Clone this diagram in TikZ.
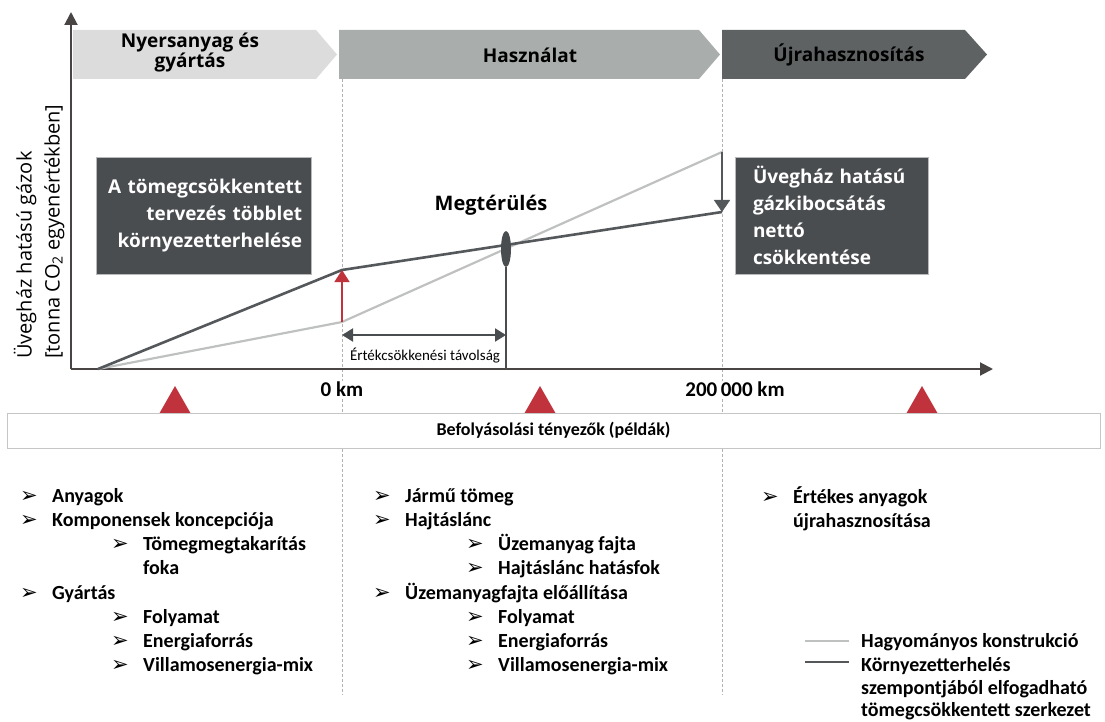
\documentclass[tikz,border=0pt]{standalone}
\usepackage{fontspec}
\setmainfont{Carlito}
\newfontfamily\opensans{Open Sans}
\newfontfamily\symbfont{DejaVu Sans}
\usetikzlibrary{arrows.meta,shapes.geometric}
\definecolor{phaseA}{HTML}{DCDCDC}
\definecolor{phaseB}{HTML}{A9ADAC}
\definecolor{phaseC}{HTML}{5F6262}
\definecolor{boxgray}{HTML}{4A4D50}
\definecolor{convgray}{HTML}{BFC1C1}
\definecolor{lightgray}{HTML}{55585B}
\definecolor{warnred}{HTML}{C0323C}
\definecolor{axisgray}{HTML}{4A4545}
\newcommand{\bul}{\makebox[32pt][l]{\symbfont\fontsize{21}{21}\selectfont ➢}}
\begin{document}
\begin{tikzpicture}[x=1pt, y=-1pt,
    phase/.style={font=\opensans\bfseries\fontsize{19}{20}\selectfont, align=center, inner sep=0pt},
    darkbox/.style={fill=boxgray, draw=gray!55, text=white, font=\opensans\bfseries\fontsize{19}{27}\selectfont, minimum height=117pt, inner sep=0pt},
    listtext/.style={anchor=base west, inner sep=0pt, font=\bfseries\fontsize{20}{24}\selectfont},
    km/.style={fill=white, inner sep=1pt, font=\bfseries\fontsize{21}{22}\selectfont},
    axis/.style={draw=axisgray, line width=2pt, -{Triangle[width=13pt,length=13pt]}},
    guide/.style={draw=gray!60, line width=0.8pt, dash pattern=on 3pt off 2pt},
    convline/.style={draw=convgray, line width=2.2pt},
    lightline/.style={draw=lightgray, line width=2.6pt},
    redarrow/.style={draw=warnred, line width=1.6pt, -{Triangle[width=15pt,length=12pt]}},
    grayarrow/.style={draw=lightgray, line width=1.6pt, -{Triangle[width=16pt,length=12pt]}},
    distarrow/.style={draw=boxgray, line width=2pt, {Triangle[width=13pt,length=11pt]}-{Triangle[width=13pt,length=11pt]}}]
\useasboundingbox (0,0) rectangle (1105,722);

\fill[phaseA] (73,30) -- (316,30) -- (337,54.5) -- (316,79) -- (73,79) -- cycle;
\fill[phaseB] (339,30) -- (699,30) -- (720,54.5) -- (699,79) -- (339,79) -- cycle;
\fill[phaseC] (722,30) -- (965,30) -- (987,54.5) -- (965,79) -- (722,79) -- cycle;
\node[phase] (ph1) at (190,53) {Nyersanyag és\\gyártás};
\node[phase] (ph2) at (530,55) {Használat};
\node[phase] (ph3) at (849,55) {Újrahasznosítás};

\coordinate (zeroTop) at (342,79);
\coordinate (zeroBot) at (342,695);
\coordinate (endTop) at (722,79);
\coordinate (endBot) at (722,695);
\draw[guide] (zeroTop) -- (zeroBot);
\draw[guide] (endTop) -- (endBot);

\coordinate (origin) at (71,369);
\coordinate (yEnd) at (71,12);
\coordinate (xEnd) at (993,369);
\draw[axis] (origin) -- (yEnd);
\draw[axis] (origin) -- (xEnd);
\node[rotate=90, anchor=west, align=left, inner sep=0pt, font=\opensans\fontsize{20}{28}\selectfont] (ylabel) at (39,359)
    {Üvegház hatású gázok\\{[}tonna CO\textsubscript{2} egyenértékben{]}};

\node[darkbox, minimum width=215pt, text width=197pt, align=right] (extra) at (203.5,215.5)
    {A tömegcsökkentett\\tervezés többlet\\környezetterhelése};
\node[darkbox, minimum width=193pt, text width=157pt, align=left] (net) at (831.5,215.5)
    {Üvegház hatású\\gázkibocsátás\\nettó\\csökkentése};

\coordinate (start) at (98,369);
\coordinate (convK) at (342,322);
\coordinate (lightK) at (342,270);
\coordinate (convE) at (722,152);
\coordinate (lightE) at (722,212);
\draw[convline] (start) -- (convK) -- (convE);
\draw[lightline] (start) -- (lightK) -- (lightE);
\draw[redarrow] (convK) -- (lightK);
\draw[grayarrow] (convE) -- (lightE);

\node[ellipse, fill=boxgray, minimum width=10pt, minimum height=36pt, inner sep=0pt] (payback) at (506,249) {};
\node[font=\opensans\bfseries\fontsize{20}{22}\selectfont, inner sep=0pt] (paybackLbl) at (491,205) {Megtérülés};
\coordinate (paybackFoot) at (506,369);
\draw[draw=boxgray, line width=1.2pt] (payback.south) -- (paybackFoot);
\coordinate (distA) at (342,335);
\coordinate (distB) at (506,335);
\draw[distarrow] (distA) -- (distB);
\node[font=\fontsize{15}{16}\selectfont, inner sep=0pt] (distLbl) at (425,356) {Értékcsökkenési távolság};

\node[km] (zeroKm) at (342,389) {0 km};
\node[km] (farKm) at (735,389) {200\,000 km};

\fill[warnred] (159,414) -- (175,386) -- (191,414) -- cycle;
\fill[warnred] (524,414) -- (540,386) -- (556,414) -- cycle;
\fill[warnred] (906,414) -- (922,386) -- (938,414) -- cycle;
\node[draw=gray!45, fill=white, minimum width=1093pt, minimum height=35pt, inner sep=0pt,
    font=\bfseries\fontsize{18}{20}\selectfont] (factors) at (553.5,430.5) {Befolyásolási tényezők (példák)};

\node[listtext] (a1) at (20,502) {\bul Anyagok};
\node[listtext] (a2) at (20,526) {\bul Komponensek koncepciója};
\node[listtext] (a3) at (111,550) {\bul Tömegmegtakarítás};
\node[listtext] (a4) at (143,574) {foka};
\node[listtext] (a5) at (20,599) {\bul Gyártás};
\node[listtext] (a6) at (111,623) {\bul Folyamat};
\node[listtext] (a7) at (111,647) {\bul Energiaforrás};
\node[listtext] (a8) at (111,671) {\bul Villamosenergia-mix};

\node[listtext] (b1) at (373,502) {\bul Jármű tömeg};
\node[listtext] (b2) at (373,526) {\bul Hajtáslánc};
\node[listtext] (b3) at (466,550) {\bul Üzemanyag fajta};
\node[listtext] (b4) at (466,574) {\bul Hajtáslánc hatásfok};
\node[listtext] (b5) at (373,599) {\bul Üzemanyagfajta előállítása};
\node[listtext] (b6) at (466,623) {\bul Folyamat};
\node[listtext] (b7) at (466,647) {\bul Energiaforrás};
\node[listtext] (b8) at (466,671) {\bul Villamosenergia-mix};

\node[listtext] (c1) at (761,503) {\bul Értékes anyagok};
\node[listtext] (c2) at (793,527) {újrahasznosítása};

\node[listtext] (legConv) at (861,647) {Hagyományos konstrukció};
\node[listtext] (legLight) at (861,671) {Környezetterhelés};
\node[listtext] (legLight2) at (861,694) {szempontjából elfogadható};
\node[listtext] (legLight3) at (861,716) {tömegcsökkentett szerkezet};
\coordinate (legConvEnd) at (805,641);
\coordinate (legLightEnd) at (805,662);
\draw[convline] (legConvEnd) -- (849,641);
\draw[lightline] (legLightEnd) -- (849,662);
\end{tikzpicture}
\end{document}
